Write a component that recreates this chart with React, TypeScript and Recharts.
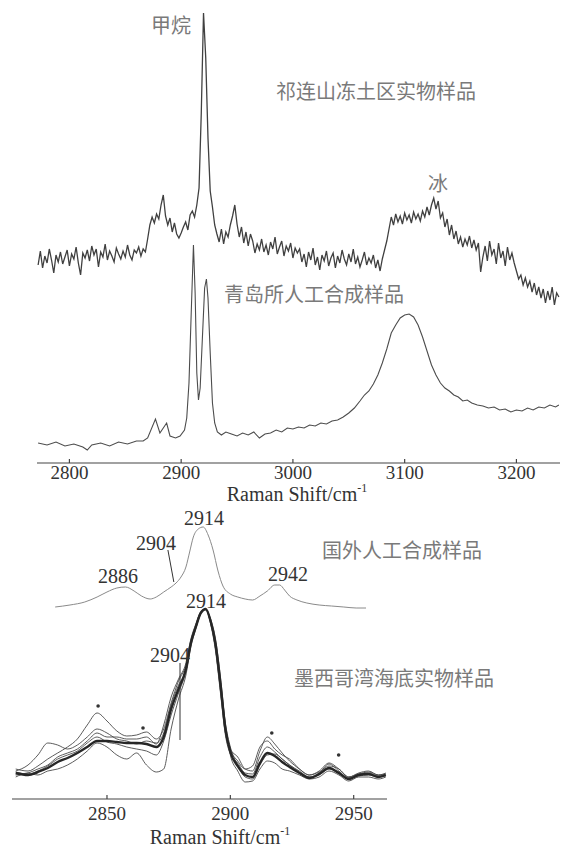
import { LineChart, Line, XAxis, YAxis, ReferenceLine, ReferenceDot } from 'recharts'

// Upper panel — Qilian permafrost sample, sampled every 2 cm-1 from 2772 (height above baseline, arb.)
const QILIAN_START = 2772
const QILIAN_STEP = 2
const QILIAN_Y = [
  198, 212, 195, 207, 200, 214, 203, 190, 208, 201, 211, 199, 206, 213, 197, 209, 204, 216, 200, 188,
  210, 205, 213, 202, 217, 208, 214, 196, 211, 206, 219, 203, 212, 207, 201, 215, 209, 204, 212, 206,
  218, 208, 203, 213, 210, 216, 207, 214, 211,
  224, 238, 246, 240, 249, 244, 258, 268, 247, 238, 245, 231, 240, 229, 225, 230, 236, 241, 233, 248,
  252, 246, 258, 275, 350, 450, 405, 325, 272, 256, 238, 229, 221, 234, 219, 231, 226, 238, 247, 258,
  239, 226, 236, 220, 231, 217, 229,
  222, 210, 219, 213, 224, 211, 218, 208, 221, 214, 226, 209, 216, 222, 207, 217, 212, 220, 205, 215, 210,
  214, 201, 209, 196, 211, 203, 215, 198, 206, 193, 208, 202, 212, 197, 205, 210, 195, 207, 200, 213,
  204, 198, 209, 201, 214, 199, 206, 196, 203, 211, 198, 205, 200, 208, 195, 203, 192,
  204, 213, 222, 234, 246, 238, 249, 241, 247, 239, 250, 243, 248, 240, 251, 244, 249, 242, 252, 246,
  256, 248, 258, 265, 254, 262, 245, 250, 236, 244, 228, 238, 224, 232, 219, 226, 216, 224, 218, 227,
  215, 223, 213, 220, 191, 206, 217, 202, 222, 208, 214, 199, 220, 205, 212, 197, 216, 203, 210, 200,
  192, 184, 188, 178, 185, 176, 182, 171, 180, 168, 176, 165, 174, 160, 172, 163, 176, 158, 170, 166,
]

// Qingdao synthetic sample [shift, intensity]
const QINGDAO = [
  [2772, 20], [2780, 18], [2788, 21], [2796, 17], [2804, 19], [2812, 16], [2816, 13], [2820, 18],
  [2828, 20], [2836, 17], [2844, 21], [2852, 19], [2860, 22], [2866, 22], [2870, 25], [2877, 44],
  [2881, 30], [2887, 40], [2890, 27], [2895, 25], [2899, 27], [2903, 33], [2905, 45], [2907, 80],
  [2909, 150], [2911, 218], [2912.5, 170], [2914, 90], [2915.5, 63], [2917, 75], [2919, 125],
  [2921, 175], [2922.6, 184], [2924, 165], [2926, 110], [2928, 60], [2930, 40], [2932.4, 31],
  [2936, 28], [2940, 31], [2945, 29], [2950, 27], [2955, 30], [2960, 28], [2965, 31], [2970, 25],
  [2975, 29], [2980, 30], [2985, 33], [2990, 31], [2995, 35], [3000, 34], [3005, 36], [3010, 35],
  [3015, 38], [3020, 37], [3025, 40], [3030, 39], [3035, 42], [3040, 43], [3045, 46], [3050, 50],
  [3055, 55], [3060, 62], [3064, 68], [3068, 72], [3072, 79], [3076, 88], [3080, 100], [3084, 114],
  [3088, 130], [3092, 138], [3096, 145], [3100, 148], [3104, 149], [3108, 146], [3112, 138],
  [3116, 126], [3120, 112], [3124, 98], [3128, 88], [3132, 80], [3136, 75], [3140, 72], [3144, 68],
  [3148, 66], [3152, 62], [3156, 63], [3160, 60], [3165, 58], [3170, 57], [3175, 55], [3180, 56],
  [3185, 53], [3190, 54], [3195, 51], [3200, 53], [3205, 52], [3210, 55], [3215, 53], [3220, 56],
  [3225, 55], [3230, 58], [3235, 56], [3238, 58],
]

// Lower panel — foreign synthetic sample
const FOREIGN = [
  [2829, 192], [2835, 194], [2841, 197], [2846, 202], [2850, 207], [2854, 211], [2857.5, 212],
  [2861, 208], [2864, 203], [2867.5, 200], [2870, 202], [2873, 207], [2876, 212], [2878, 216],
  [2880, 222], [2882, 232], [2883.5, 247], [2885, 262], [2887, 270], [2889, 272], [2891, 264],
  [2893, 249], [2895, 228], [2897, 213], [2900, 205], [2903, 202], [2906, 200], [2909, 199],
  [2912, 203], [2915, 208], [2918, 214], [2920, 214], [2922, 209], [2924, 203], [2927, 199],
  [2931, 196], [2936, 194], [2941, 193], [2946, 192], [2951, 191], [2955, 191],
]

// Gulf of Mexico seafloor samples, several spectra on one grid
const GULF_X = [
  2813, 2818, 2822, 2826, 2830, 2834, 2838, 2842, 2846, 2850, 2854, 2858, 2862, 2866, 2870, 2873,
  2876, 2879, 2882, 2884, 2886, 2888, 2890, 2892, 2894, 2896, 2898, 2900, 2903, 2906, 2909, 2912,
  2915, 2918, 2921, 2924, 2928, 2932, 2936, 2940, 2944, 2948, 2952, 2956, 2960, 2963,
]
const GULF_MAIN = [
  26, 24, 27, 31, 37, 41, 46, 52, 58, 58, 57, 56, 56, 55, 52, 62, 90, 110, 130, 156, 172, 186, 190,
  178, 155, 115, 70, 47, 33, 24, 22, 36, 46, 43, 37, 32, 26, 21, 25, 31, 26, 20, 24, 25, 22, 24,
]
const GULF_B = [
  30, 28, 33, 40, 46, 52, 60, 74, 86, 78, 68, 63, 64, 67, 60, 70, 96, 118, 134, 158, 174, 187, 190,
  176, 150, 108, 66, 50, 42, 30, 28, 48, 62, 55, 46, 38, 30, 24, 28, 36, 30, 22, 26, 28, 24, 26,
]
const GULF_C = [
  22, 26, 24, 28, 30, 34, 40, 48, 56, 52, 44, 40, 46, 34, 27, 30, 70, 100, 124, 152, 170, 185, 189,
  180, 160, 122, 74, 44, 28, 17, 18, 30, 38, 36, 30, 28, 24, 20, 22, 28, 24, 18, 22, 22, 20, 22,
]
const GULF_D = [
  28, 34, 44, 56, 54, 50, 54, 62, 70, 66, 60, 58, 55, 58, 56, 66, 94, 114, 128, 154, 171, 186, 190,
  177, 152, 112, 72, 50, 38, 30, 33, 52, 58, 50, 44, 40, 30, 24, 27, 33, 30, 22, 25, 27, 24, 25,
]
const GULF_E = [
  24, 26, 30, 34, 42, 46, 50, 58, 66, 62, 62, 60, 60, 62, 55, 74, 102, 120, 136, 160, 175, 187, 190,
  175, 148, 106, 64, 45, 36, 26, 25, 42, 52, 47, 40, 34, 28, 22, 26, 35, 28, 21, 25, 26, 23, 25,
]
const GULF_F = [
  27, 25, 28, 33, 40, 44, 48, 56, 62, 57, 55, 52, 50, 48, 44, 58, 84, 106, 128, 155, 173, 186, 190,
  179, 157, 118, 76, 52, 34, 22, 20, 34, 44, 45, 40, 34, 27, 22, 24, 30, 27, 21, 23, 24, 22, 23,
]

const TOP_TICKS = [2800, 2900, 3000, 3100, 3200]
const BOTTOM_TICKS = [2850, 2900, 2950]
const STAR_MARKS = [[2846.4, 93], [2864.6, 71], [2916.8, 66], [2943.9, 44]]

const qilianRows = QILIAN_Y.map((y, i) => ({ x: QILIAN_START + i * QILIAN_STEP, y }))
const qingdaoRows = QINGDAO.map(([x, y]) => ({ x, y }))
const foreignRows = FOREIGN.map(([x, y]) => ({ x, y }))
const gulfRows = GULF_X.map((x, i) => ({
  x, main: GULF_MAIN[i], b: GULF_B[i], c: GULF_C[i], d: GULF_D[i], e: GULF_E[i], f: GULF_F[i],
}))

const SERIF = '"Liberation Serif", "Times New Roman", serif'
const CJK = '"Noto Sans CJK SC", sans-serif'

function SerifTick({ x, y, payload }: any) {
  return (
    <text x={x} y={y} dy="0.71em" textAnchor="middle"
      style={{ fontFamily: SERIF, fontSize: 19, fill: '#333' }}>{payload.value}</text>
  )
}

function Txt({ x, y, children, cjk, size = 20, color }: any) {
  return (
    <div style={{
      position: 'absolute', left: x, top: y, transform: 'translate(-50%, -50%)', whiteSpace: 'nowrap',
      lineHeight: 1, fontSize: size, fontFamily: cjk ? CJK : SERIF, color: color || (cjk ? '#7a7a7a' : '#333'),
    }}>{children}</div>
  )
}

function AxisTitle({ x, y }: { x: number; y: number }) {
  return (
    <Txt x={x} y={y}>Raman Shift/cm<sup style={{ fontSize: 12, verticalAlign: 'top', position: 'relative', top: -2 }}>-1</sup></Txt>
  )
}

export default function App() {
  return (
    <div style={{ position: 'fixed', left: 0, top: 0, width: 567, height: 849, background: '#fff', overflow: 'hidden' }}>
      <div style={{ position: 'absolute', left: 0, top: 0 }}>
        <LineChart width={567} height={510} margin={{ top: 0, right: 7, bottom: 0, left: 37 }}>
          <XAxis type="number" dataKey="x" domain={[2771, 3239]} ticks={TOP_TICKS} allowDataOverflow
            height={47} stroke="#444" strokeWidth={1.2} tickSize={-4} tickMargin={7} tick={<SerifTick />} />
          <YAxis hide domain={[0, 463]} />
          <Line data={qilianRows} dataKey="y" type="linear" stroke="#404040" strokeWidth={1.3} dot={false} isAnimationActive={false} />
          <Line data={qingdaoRows} dataKey="y" type="linear" stroke="#4c4c4c" strokeWidth={1.1} dot={false} isAnimationActive={false} />
        </LineChart>
      </div>
      <div style={{ position: 'absolute', left: 0, top: 500 }}>
        <LineChart width={567} height={349} data={gulfRows} margin={{ top: 0, right: 180, bottom: 0, left: 12 }}>
          <XAxis type="number" dataKey="x" domain={[2811.5, 2963.5]} ticks={BOTTOM_TICKS} allowDataOverflow
            height={50} stroke="#444" strokeWidth={1.2} tickSize={-4} tickMargin={12} tick={<SerifTick />} />
          <YAxis hide domain={[0, 299]} />
          <Line data={foreignRows} dataKey="y" type="monotone" stroke="#8a8a8a" strokeWidth={1} dot={false} isAnimationActive={false} />
          {['b', 'c', 'd', 'e', 'f'].map(k => (
            <Line key={k} dataKey={k} type="monotone" stroke="#4a4a4a" strokeWidth={0.9} dot={false} isAnimationActive={false} />
          ))}
          <Line dataKey="main" type="monotone" stroke="#262626" strokeWidth={2.4} dot={false} isAnimationActive={false} />
          <ReferenceLine segment={[{ x: 2874.7, y: 249 }, { x: 2877.1, y: 217 }]} stroke="#333" strokeWidth={1} />
          <ReferenceLine segment={[{ x: 2879.6, y: 136 }, { x: 2879.6, y: 59 }]} stroke="#333" strokeWidth={1} />
          {STAR_MARKS.map(([x, y], i) => (
            <ReferenceDot key={i} x={x} y={y} r={1.8} fill="#333" stroke="none" />
          ))}
        </LineChart>
      </div>

      <Txt x={171} y={25} cjk>甲烷</Txt>
      <Txt x={376} y={91} cjk>祁连山冻土区实物样品</Txt>
      <Txt x={438} y={183} cjk>冰</Txt>
      <Txt x={314} y={294} cjk>青岛所人工合成样品</Txt>
      <AxisTitle x={297} y={494} />

      <Txt x={204} y={518}>2914</Txt>
      <Txt x={156} y={543}>2904</Txt>
      <Txt x={118} y={576}>2886</Txt>
      <Txt x={288} y={574}>2942</Txt>
      <Txt x={206} y={601}>2914</Txt>
      <Txt x={170} y={655}>2904</Txt>
      <Txt x={402} y={550} cjk>国外人工合成样品</Txt>
      <Txt x={394} y={678} cjk>墨西哥湾海底实物样品</Txt>
      <AxisTitle x={220} y={837} />
    </div>
  )
}
